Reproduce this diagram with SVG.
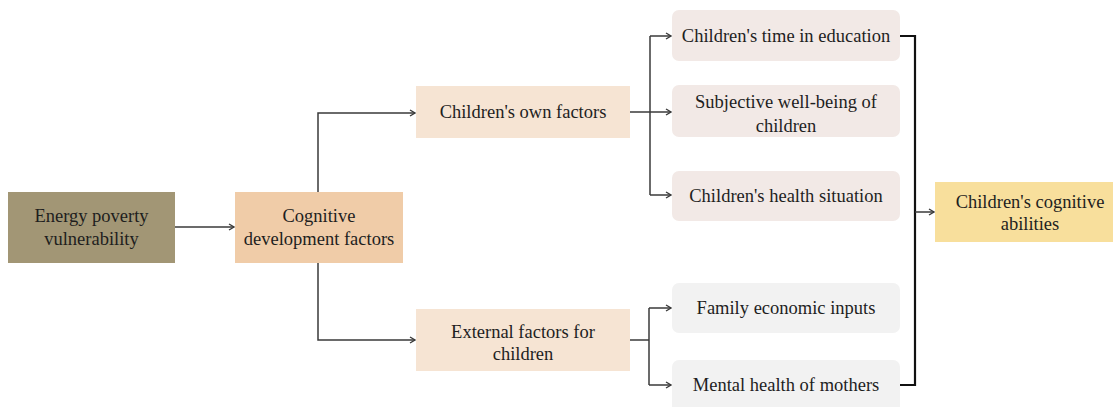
<svg xmlns="http://www.w3.org/2000/svg" width="1113" height="407" viewBox="0 0 1113 407">
<style>
text{font-family:'Liberation Serif','DejaVu Serif',serif;font-size:18.5px;fill:#1e1e1e;text-anchor:middle}
.c{fill:none;stroke:#3a3a3a;stroke-width:1.5}
.b{fill:none;stroke:#111;stroke-width:2.2}
</style>
<defs>
<marker id="ah" markerWidth="10" markerHeight="10" refX="8" refY="5" orient="auto" markerUnits="userSpaceOnUse">
<path d="M3,2 L8,5 L3,8" fill="none" stroke="#3a3a3a" stroke-width="1.4"/>
</marker>
</defs>
<rect width="1113" height="407" fill="#fff"/>
<g id="connectors">
<path class="c" d="M175,227 H234" marker-end="url(#ah)"/>
<path class="c" d="M318,192 V113 H415" marker-end="url(#ah)"/>
<path class="c" d="M318,263 V340 H415" marker-end="url(#ah)"/>
<path class="c" d="M630,112 H650"/>
<path class="c" d="M650,36 V195"/>
<path class="c" d="M650,36 H671" marker-end="url(#ah)"/>
<path class="c" d="M650,112 H671" marker-end="url(#ah)"/>
<path class="c" d="M650,195 H671" marker-end="url(#ah)"/>
<path class="c" d="M630,340 H649"/>
<path class="c" d="M649,308 V385"/>
<path class="c" d="M649,308 H671" marker-end="url(#ah)"/>
<path class="c" d="M649,385 H671" marker-end="url(#ah)"/>
<path class="b" d="M900,36 H915 V385 H900"/>
<path class="c" d="M915,212 H934" marker-end="url(#ah)"/>
</g>
<g id="energy">
<rect x="8" y="192" width="167" height="71" fill="#a29675"/>
<text x="91.5" y="222" font-family="Liberation Serif, serif">Energy poverty</text>
<text x="91.5" y="245" font-family="Liberation Serif, serif">vulnerability</text>
</g>
<g id="cognitive">
<rect x="235" y="192" width="168" height="71" fill="#f0cca8"/>
<text x="319" y="222">Cognitive</text>
<text x="319" y="245">development factors</text>
</g>
<g id="own">
<rect x="416" y="86" width="214" height="52" fill="#f6e4d3"/>
<text x="523" y="118">Children's own factors</text>
</g>
<g id="external">
<rect x="416" y="309" width="214" height="62" fill="#f6e4d3"/>
<text x="523" y="338">External factors for</text>
<text x="523" y="360">children</text>
</g>
<g id="time">
<rect x="672" y="10" width="228" height="51" rx="7" fill="#f2e9e6"/>
<text x="786" y="42">Children's time in education</text>
</g>
<g id="subjective">
<rect x="672" y="85" width="228" height="52" rx="7" fill="#f2e9e6"/>
<text x="786" y="108">Subjective well-being of</text>
<text x="786" y="132">children</text>
</g>
<g id="health">
<rect x="672" y="171" width="228" height="50" rx="7" fill="#f2e9e6"/>
<text x="786" y="202">Children's health situation</text>
</g>
<g id="family">
<rect x="672" y="283" width="228" height="50" rx="7" fill="#f2f2f2"/>
<text x="786" y="314">Family economic inputs</text>
</g>
<g id="mental">
<rect x="672" y="360" width="228" height="54" rx="7" fill="#f2f2f2"/>
<text x="786" y="391">Mental health of mothers</text>
</g>
<g id="abilities">
<rect x="935" y="182" width="178" height="60" fill="#f8df9c"/>
<text x="1030" y="208">Children's cognitive</text>
<text x="1030" y="230">abilities</text>
</g>
</svg>
